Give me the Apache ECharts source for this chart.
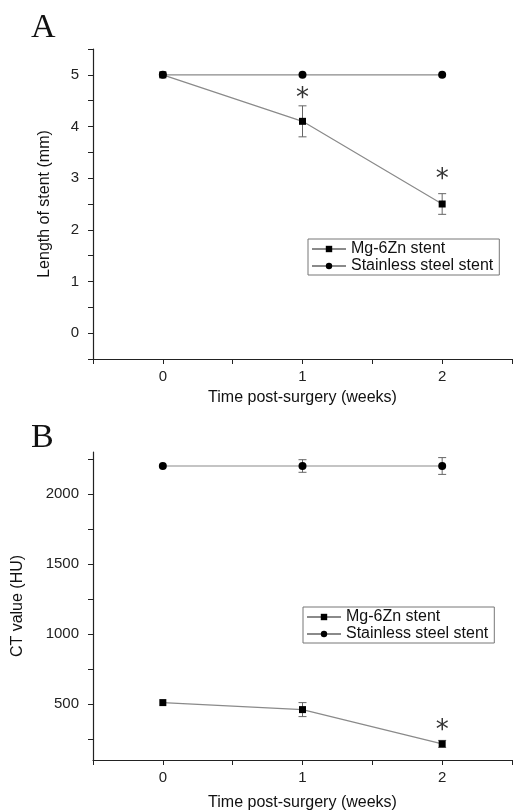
<!DOCTYPE html>
<html><head><meta charset="utf-8">
<script src="https://cdn.jsdelivr.net/npm/echarts@6/dist/echarts.min.js"></script>
<style>html,body{margin:0;padding:0;background:#fff}#c{width:515px;height:812px}</style>
</head><body><div id="c"></div>
<script>
// Panel A: length of stent (mm)
const weeks = [0, 1, 2];
const lenMg = [5, 4.1, 2.5];
const lenMgErr = [0, 0.3, 0.2];
const lenSS = [5, 5, 5];
const lenSSErr = [0, 0, 0];
const lenStars = [[1, 4.62], [2, 3.05]];
// Panel B: CT value (HU)
const ctMg = [510, 460, 215];
const ctMgErr = [0, 50, 25];
const ctSS = [2200, 2200, 2200];
const ctSSErr = [0, 45, 60];
const ctStars = [[2, 340]];
const ctLabelTicks = [500, 1000, 1500, 2000];
const ctMinorTicks = [250, 500, 750, 1000, 1250, 1500, 1750, 2000, 2250];

const font = 'Liberation Sans, Arial, sans-serif';
const chart = echarts.init(document.getElementById('c'), null, {renderer: 'canvas'});

function errSeries(xi, yi, vals, errs) {
  const data = weeks.map((w, i) => [w, vals[i], errs[i]]).filter(d => d[2] > 0);
  return {
    type: 'custom', xAxisIndex: xi, yAxisIndex: yi, z: 1, silent: true,
    data: data,
    renderItem: function (params, api) {
      const x = api.value(0), y = api.value(1), e = api.value(2);
      const hi = api.coord([x, y + e]), lo = api.coord([x, y - e]);
      const w = 4;
      const st = {stroke: '#666', lineWidth: 1, fill: null};
      return {type: 'group', children: [
        {type: 'line', shape: {x1: hi[0], y1: hi[1], x2: lo[0], y2: lo[1]}, style: st},
        {type: 'line', shape: {x1: hi[0] - w, y1: hi[1], x2: hi[0] + w, y2: hi[1]}, style: st},
        {type: 'line', shape: {x1: lo[0] - w, y1: lo[1], x2: lo[0] + w, y2: lo[1]}, style: st}
      ]};
    }
  };
}
function starSeries(xi, yi, pts) {
  return {
    type: 'custom', xAxisIndex: xi, yAxisIndex: yi, z: 5, silent: true, data: pts,
    renderItem: function (params, api) {
      const p = api.coord([api.value(0), api.value(1)]);
      return {type: 'text', x: p[0], y: p[1] + 5, style: {text: '*', font: '26px DejaVu Sans, sans-serif', fill: '#333', align: 'center', verticalAlign: 'middle'}};
    }
  };
}
function lineSeries(name, xi, yi, vals, sym, size) {
  return {
    name: name, type: 'line', xAxisIndex: xi, yAxisIndex: yi, z: 3,
    data: weeks.map((w, i) => [w, vals[i]]),
    symbol: sym, symbolSize: size, showAllSymbol: true,
    lineStyle: {color: '#8a8a8a', width: 1.2},
    itemStyle: {color: '#000', borderWidth: 0},
    emphasis: {disabled: true}
  };
}
function xAxisCfg(gi, gap) {
  return {
    gridIndex: gi, type: 'value', min: -0.5, max: 2.5, interval: 0.5,
    name: 'Time post-surgery (weeks)', nameLocation: 'middle', nameGap: gap,
    nameTextStyle: {fontFamily: font, fontSize: 16, color: '#111'},
    axisLine: {onZero: false, lineStyle: {color: '#222', width: 1.2}},
    axisTick: {show: true, inside: false, length: 5, lineStyle: {color: '#222'}},
    axisLabel: {fontFamily: font, fontSize: 15, color: '#222', margin: 10,
      formatter: v => (Math.abs(v - Math.round(v)) < 1e-6 && v >= 0 && v <= 2) ? String(Math.round(v)) : ''},
    splitLine: {show: false}
  };
}
const legendCommon = {
  orient: 'vertical', itemWidth: 34, itemHeight: 8, itemGap: 1,
  borderColor: '#777', borderWidth: 1, padding: [2, 6, 1, 3],
  textStyle: {fontFamily: font, fontSize: 16, color: '#111'}, backgroundColor: '#fff',
  data: ['Mg-6Zn stent', 'Stainless steel stent']
};

chart.setOption({
  animation: false,
  graphic: [
    {type: 'text', left: 31, top: 11, style: {text: 'A', font: '34px Liberation Serif, serif', fill: '#111'}},
    {type: 'text', left: 31, top: 421, style: {text: 'B', font: '34px Liberation Serif, serif', fill: '#111'}}
  ],
  grid: [
    {left: 93, top: 49, width: 422, height: 310},
    {left: 93, top: 452, width: 422, height: 310}
  ],
  legend: [
    Object.assign({}, legendCommon, {left: 308, top: 239}),
    Object.assign({}, legendCommon, {left: 303, top: 607, id: 'lb'})
  ],
  xAxis: [xAxisCfg(0, 31), xAxisCfg(1, 35)],
  yAxis: [
    {gridIndex: 0, type: 'value', min: -0.5, max: 5.5, interval: 0.5,
      name: 'Length of stent (mm)', nameLocation: 'middle', nameGap: 40,
      nameTextStyle: {fontFamily: font, fontSize: 16, color: '#111'},
      axisLine: {show: true, onZero: false, lineStyle: {color: '#222', width: 1.2}},
      axisTick: {show: true, length: 5, lineStyle: {color: '#222'}},
      axisLabel: {fontFamily: font, fontSize: 15, color: '#222', margin: 14,
        formatter: v => (Math.abs(v - Math.round(v)) < 1e-6 && v >= 0 && v <= 5) ? String(Math.round(v)) : ''},
      splitLine: {show: false}},
    {gridIndex: 1, type: 'value', min: 100, max: 2300,
      name: 'CT value (HU)', nameLocation: 'middle', nameGap: 67,
      nameTextStyle: {fontFamily: font, fontSize: 16, color: '#111'},
      axisLine: {show: true, onZero: false, lineStyle: {color: '#222', width: 1.2}},
      axisTick: {show: true, length: 5, customValues: ctMinorTicks, lineStyle: {color: '#222'}},
      axisLabel: {fontFamily: font, fontSize: 15, color: '#222', margin: 14, customValues: ctLabelTicks,
        formatter: v => String(v)},
      splitLine: {show: false}}
  ],
  series: [
    errSeries(0, 0, lenMg, lenMgErr),
    errSeries(0, 0, lenSS, lenSSErr),
    lineSeries('Mg-6Zn stent', 0, 0, lenMg, 'rect', 7),
    lineSeries('Stainless steel stent', 0, 0, lenSS, 'circle', 8),
    starSeries(0, 0, lenStars),
    errSeries(1, 1, ctMg, ctMgErr),
    errSeries(1, 1, ctSS, ctSSErr),
    lineSeries('Mg-6Zn stent', 1, 1, ctMg, 'rect', 7),
    lineSeries('Stainless steel stent', 1, 1, ctSS, 'circle', 8),
    starSeries(1, 1, ctStars)
  ]
});
</script></body></html>
